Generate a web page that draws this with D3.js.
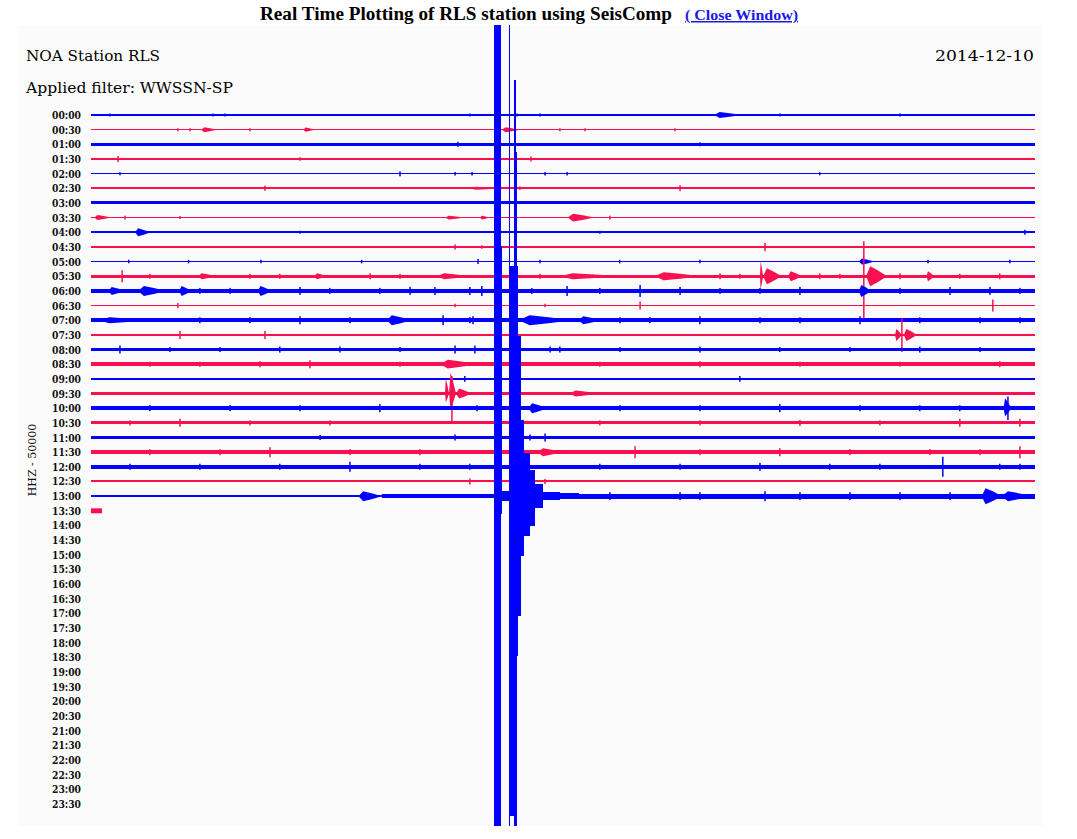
<!DOCTYPE html>
<html><head><meta charset="utf-8">
<script src="https://cdn.jsdelivr.net/npm/d3@7"></script>
<style>body{margin:0;background:#fff}svg{display:block}</style>
</head><body><svg id="c" width="1077" height="839"></svg>
<script>
// ---------- DATA ----------
const titleText = "Real Time Plotting of RLS station using SeisComp";
const linkText = "( Close Window)";
const stationText = "NOA Station RLS";
const dateText = "2014-12-10";
const filterText = "Applied filter: WWSSN-SP";
const scaleText = "HHZ - 50000";

const rowLabels = ["00:00","00:30","01:00","01:30","02:00","02:30","03:00","03:30","04:00","04:30",
  "05:00","05:30","06:00","06:30","07:00","07:30","08:00","08:30","09:00","09:30",
  "10:00","10:30","11:00","11:30","12:00","12:30","13:00","13:30","14:00","14:30",
  "15:00","15:30","16:00","16:30","17:00","17:30","18:00","18:30","19:00","19:30",
  "20:00","20:30","21:00","21:30","22:00","22:30","23:00","23:30"];

// background noise half-amplitude (counts) for each recorded row
const rowNoise = [3400,2400,5100,3400,2500,3400,5100,2600,3400,3400,
  2600,5500,6800,2400,6800,4100,5500,6000,2600,4500,
  6800,5100,4300,6800,6200,3400,2600,6000];
// minutes of data in each recorded row
const rowEnd = [30,30,30,30,30,30,30,30,30,30,30,30,30,30,30,30,30,30,30,30,30,30,30,30,30,30,30,0.35];

// bursts per row: [startMinute, endMinute, upAmplitude, downAmplitude(optional)] in counts
const rowBursts = [
  /*00:00*/ [[0.60,0.60,5100],[3.88,3.88,5100],[4.26,4.26,5100],[12.04,12.04,5100],[13.54,13.54,5100],[14.27,14.27,5100],[19.80,20.70,10200],[21.89,21.89,5100],[25.71,25.71,5100]],
  /*00:30*/ [[2.76,2.76,5100],[3.15,3.15,5100],[3.50,4.00,8500],[5.05,5.05,5100],[6.75,7.10,7500],[13.06,13.63,8500],[14.90,14.90,5100],[15.70,15.70,5100],[18.56,18.56,5100]],
  /*01:00*/ [[11.66,11.66,8500],[19.35,19.35,7000]],
  /*01:30*/ [[0.86,0.86,10200],[6.64,6.64,6000],[13.98,13.98,8500]],
  /*02:00*/ [[0.92,0.92,5100],[9.82,9.82,8500],[11.57,11.57,6000],[12.11,12.11,6000],[14.43,14.43,6000],[15.13,15.13,6000],[23.16,23.16,5100]],
  /*02:30*/ [[5.53,5.53,8500],[12.04,13.0,5100],[13.63,13.63,6000],[18.72,18.72,10200]],
  /*03:00*/ [],
  /*03:30*/ [[0.10,0.65,8500],[1.08,1.08,6000],[2.83,2.83,5100],[11.25,11.88,6000],[12.36,12.68,6000],[15.15,16.00,13600],[16.49,16.49,6000]],
  /*04:00*/ [[1.40,1.90,13600],[6.64,6.64,5100],[16.17,16.17,5100],[29.68,29.68,8500]],
  /*04:30*/ [[11.57,11.57,8500],[12.42,12.42,6000],[21.42,21.42,13600]],
  /*05:00*/ [[1.20,1.20,6000],[3.10,3.10,6000],[5.40,5.40,6000],[8.60,8.60,6000],[12.30,12.30,8500],[13.0,13.0,6000],[14.27,14.27,6000],[16.80,16.80,6000],[19.35,19.35,6000],[24.40,24.90,10200],[26.60,26.60,6000],[29.2,29.2,6000]],
  /*05:30*/ [[0.99,0.99,20500],[3.40,4.00,10200],[7.10,7.50,10200],[11.0,12.1,10200],[14.9,16.9,10200],[17.9,19.4,13600],[21.26,21.36,51200,45000],[21.36,21.95,27300],[22.15,22.60,17000],[24.56,24.63,119400,143000],[24.63,25.30,34100],[26.55,26.80,17000]],
  /*06:00*/ [[0.55,1.10,13600],[1.50,2.40,17000],[2.80,3.20,17000],[5.30,5.75,17000],[10.93,10.93,13600],[12.04,12.04,13600],[12.42,12.42,17000],[14.01,14.01,10200],[15.13,15.13,17000],[17.45,17.45,20500],[24.40,24.80,20500],[27.3,27.3,13600]],
  /*06:30*/ [[2.76,2.76,8500],[11.57,11.57,6000],[14.43,14.43,6000],[17.45,17.45,13600],[28.66,28.66,20500]],
  /*07:00*/ [[0.25,1.90,10200],[9.4,10.2,17000],[11.19,11.19,17000],[12.14,12.14,13600],[13.6,15.3,17000],[15.5,16.2,13600],[17.76,17.76,10200]],
  /*07:30*/ [[2.83,2.83,13600],[5.53,5.53,13600],[25.55,25.77,20500],[25.77,25.83,58000,58000],[25.83,26.25,20500]],
  /*08:00*/ [[0.92,0.92,13600],[7.91,7.91,10200],[11.57,11.57,13600],[12.2,12.2,13600],[14.59,14.59,10200],[14.9,14.9,10200]],
  /*08:30*/ [[6.96,6.96,13600],[11.1,12.3,15000]],
  /*09:00*/ [[11.88,11.88,10200],[20.62,20.62,10200]],
  /*09:30*/ [[11.25,11.38,50000,30000],[11.38,11.60,71600,54600],[11.47,11.50,60000,95500],[11.60,12.10,17000],[15.2,16.2,10200]],
  /*10:00*/ [[12.27,12.27,10200],[13.9,14.5,17000],[27.61,27.61,10200],[29.0,29.25,34100,27300],[29.14,29.17,40000,40000]],
  /*10:30*/ [[2.83,2.83,13600],[27.61,27.61,13600],[29.52,29.52,13600]],
  /*11:00*/ [[7.28,7.28,8500],[11.57,11.57,10200],[13.95,13.95,10200],[14.43,14.43,13600]],
  /*11:30*/ [[5.69,5.69,17000],[14.2,15.0,13600],[17.29,17.29,20500],[29.52,29.52,20500]],
  /*12:00*/ [[8.23,8.23,17000],[12.04,12.04,10200],[27.07,27.07,34100]],
  /*12:30*/ [[12.04,12.04,10200],[13.95,13.95,8500],[14.43,14.43,8500]],
  /*13:00*/ [[8.50,9.25,17000],[21.42,21.42,17000],[28.3,28.95,27300],[28.95,29.9,17000]],
  /*13:30*/ []
];

// small isolated ticks per row: [minute, amplitude in counts]
const rowTicks = {
  "05:30": [[1.87,8500],[5.05,8500],[6.0,8500],[8.87,10200],[9.82,8500],[14.27,8500],[19.99,10200],[20.62,8500],[23.16,10200],[23.8,8500],[25.71,10200],[27.61,8500],[28.88,10200]],
  "06:00": [[3.46,10200],[4.42,10200],[6.64,13600],[7.59,10200],[9.18,10200],[10.14,13600],[16.17,10200],[18.72,13600],[19.99,10200],[21.26,10200],[22.53,13600],[25.71,10200],[28.57,13600],[29.52,10200]],
  "07:00": [[3.46,10200],[5.05,10200],[6.64,13600],[8.23,10200],[12.04,10200],[16.81,10200],[19.35,13600],[21.26,10200],[22.53,10200],[24.44,13600],[26.34,10200],[28.25,10200],[29.52,10200]],
  "08:00": [[2.51,8500],[4.10,8500],[6.0,10200],[9.82,8500],[16.81,8500],[19.35,10200],[21.89,8500],[24.12,8500],[26.34,10200],[28.25,8500]],
  "08:30": [[1.87,8500],[3.46,8500],[5.37,10200],[9.82,8500],[16.17,8500],[19.35,10200],[22.53,8500],[25.71,8500],[28.88,10200]],
  "10:00": [[1.87,10200],[4.42,10200],[6.64,10200],[9.18,13600],[16.81,10200],[19.35,10200],[21.89,13600],[24.44,10200],[26.34,10200]],
  "10:30": [[1.24,8500],[5.05,8500],[7.59,8500],[16.17,8500],[19.35,8500],[22.53,10200],[25.07,8500]],
  "11:30": [[1.87,10200],[4.10,10200],[8.23,10200],[10.45,10200],[19.35,10200],[21.89,13600],[24.12,10200],[26.66,10200],[28.25,10200]],
  "12:00": [[1.24,10200],[3.46,10200],[6.0,10200],[10.45,10200],[16.17,10200],[18.72,10200],[21.26,13600],[23.48,10200],[25.07,10200],[28.88,10200],[29.52,10200]],
  "13:00": [[16.49,13600],[18.72,13600],[19.35,13600],[22.53,13600],[24.12,13600],[25.71,13600],[27.3,13600]]
};

// 13:00 trace: stepped envelope of the earthquake [startMinute, endMinute, up, down(optional)]
const quakeEnvelope = [[9.25,12.81,6800],
  [12.81,13.03,2046600],[13.03,13.07,852800,60000],[13.07,13.28,17000],
  [13.28,13.30,2046600],[13.30,13.43,784500,1091500],[13.43,13.51,1419000,1125600],[13.51,13.54,1173400,1125600],
  [13.54,13.58,784500,545800],[13.58,13.67,545800,409300],[13.67,13.77,259200,204700],[13.77,13.95,146700,136400],
  [13.95,14.11,88700,102300],[14.11,14.37,40900],[14.37,14.9,13600],[14.9,15.5,10200],[15.5,30,8500]];
const quakeRow = "13:00";
const lastRow = [[0,0.35,8500]];

// ---------- LAYOUT ----------
const svg = d3.select("#c");
const W = 1077, H = 839;
const panel = {x:18, y:25, w:1025, h:801};
const x = d3.scaleLinear().domain([0,30]).range([91,1035]);
const y = d3.scalePoint().domain(rowLabels).range([115, 804]);
const rowStep = y.step();
const amp = d3.scaleLinear().domain([0,50000]).range([0,rowStep]);
const colors = ["#0000ff","#f8104f"];

svg.append("rect").attr("width",W).attr("height",H).attr("fill","#ffffff");
svg.append("rect").attr("x",panel.x).attr("y",panel.y).attr("width",panel.w).attr("height",panel.h).attr("fill","#fbfbfb");

// title
svg.append("text").attr("x",260).attr("y",20).text(titleText)
  .attr("font-family","'Liberation Serif', serif").attr("font-weight","bold").attr("font-size",18)
  .attr("textLength",412).attr("lengthAdjust","spacingAndGlyphs").attr("fill","#000");
svg.append("text").attr("x",685).attr("y",20).text(linkText)
  .attr("font-family","'Liberation Serif', serif").attr("font-weight","bold").attr("font-size",15)
  .attr("textLength",113).attr("lengthAdjust","spacingAndGlyphs").attr("fill","#1a1ae6")
  .attr("text-decoration","underline");

// header
const hdrFont = "'DejaVu Serif', serif";
svg.append("text").attr("x",26).attr("y",61).text(stationText)
  .attr("font-family",hdrFont).attr("font-size",15).attr("textLength",134).attr("lengthAdjust","spacingAndGlyphs");
svg.append("text").attr("x",1034).attr("y",61).attr("text-anchor","end").text(dateText)
  .attr("font-family",hdrFont).attr("font-size",15).attr("textLength",99).attr("lengthAdjust","spacingAndGlyphs");
svg.append("text").attr("x",26).attr("y",93).text(filterText)
  .attr("font-family",hdrFont).attr("font-size",15).attr("textLength",207).attr("lengthAdjust","spacingAndGlyphs");

// row labels
svg.append("g").selectAll("text").data(rowLabels).join("text")
  .attr("x",81).attr("y",d=>y(d)+4).attr("text-anchor","end").text(d=>d)
  .attr("font-family",hdrFont).attr("font-weight","bold").attr("font-size",11)
  .attr("textLength",29).attr("lengthAdjust","spacingAndGlyphs").attr("fill","#111");

// scale label
svg.append("text").attr("transform","translate(36,460) rotate(-90)").attr("text-anchor","middle")
  .text(scaleText).attr("font-family",hdrFont).attr("font-size",11).attr("fill","#111");

// traces
svg.append("clipPath").attr("id","clip").append("rect")
  .attr("x",panel.x).attr("y",panel.y).attr("width",panel.w).attr("height",panel.h);
const traces = svg.append("g").attr("clip-path","url(#clip)");

function burstPath(d, cy){
  const x0 = x(d[0]), x1 = x(d[1]), w = x1 - x0;
  const up = amp(d[2]), dn = amp(d.length>3?d[3]:d[2]);
  if (w < 3) {
    const xx = x0 - 0.75;
    return `M${xx},${cy-up}h1.5v${up+dn}h-1.5Z`;
  }
  const pts = [[x0,cy],[x0+0.2*w,cy-up],[x0+0.55*w,cy-0.6*up],[x1,cy],[x0+0.55*w,cy+0.6*dn],[x0+0.2*w,cy+dn]];
  return "M"+pts.map(p=>p.join(",")).join("L")+"Z";
}

rowNoise.forEach((n,i)=>{
  const lbl = rowLabels[i];
  const cy = y(lbl);
  const g = traces.append("g").attr("fill",colors[i%2]);
  const h = Math.max(1, amp(n)*2);
  g.append("rect").attr("x",x(0)).attr("width",x(rowEnd[i])-x(0))
    .attr("y",cy-h/2).attr("height",h).attr("shape-rendering","crispEdges");
  g.selectAll("path.b").data(rowBursts[i]).join("path").attr("class","b")
    .attr("d",d=>burstPath(d,cy));
  g.selectAll("rect.t").data(rowTicks[lbl] || []).join("rect").attr("class","t")
    .attr("x",d=>x(d[0])-0.75).attr("width",1.5)
    .attr("y",d=>cy-amp(d[1])).attr("height",d=>2*amp(d[1]));
  if (lbl === quakeRow) {
    g.selectAll("rect.q").data(quakeEnvelope).join("rect").attr("class","q")
      .attr("shape-rendering","crispEdges")
      .attr("x",d=>x(d[0])).attr("width",d=>Math.max(1, x(d[1])-x(d[0])))
      .attr("y",d=>cy-amp(d[2])).attr("height",d=>amp(d[2])+amp(d.length>3?d[3]:d[2]));
  }
  if (i === rowNoise.length-1) {
    g.selectAll("rect.l").data(lastRow).join("rect").attr("class","l")
      .attr("x",d=>x(d[0])).attr("width",d=>x(d[1])-x(d[0]))
      .attr("y",d=>cy-amp(d[2])).attr("height",d=>2*amp(d[2]));
  }
});
</script></body></html>
